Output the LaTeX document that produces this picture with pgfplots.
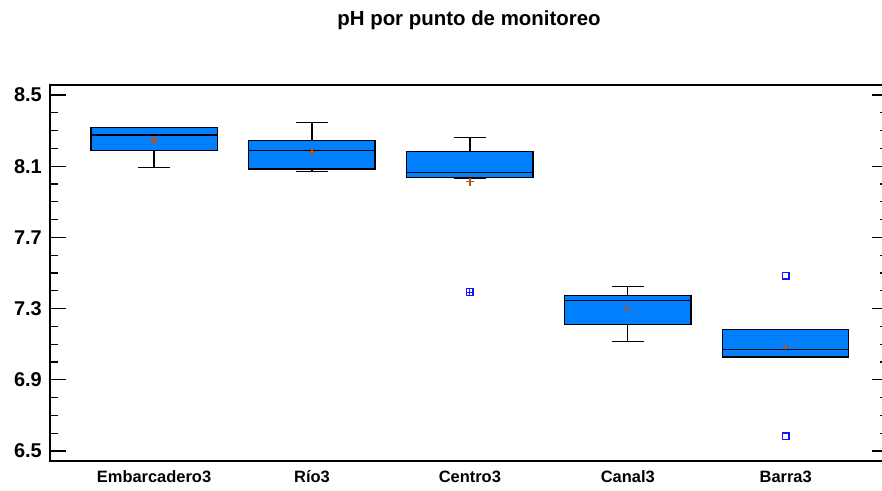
\documentclass[border=0pt]{standalone}
\usepackage{fontspec}
\setmainfont{Liberation Sans}
\usepackage{pgfplots}
\pgfplotsset{compat=1.18}
\definecolor{boxblue}{RGB}{0,128,255}
\definecolor{meanc}{RGB}{190,80,20}
\definecolor{outc}{RGB}{20,20,255}
% #1 position, #2 lower whisker, #3 Q1, #4 median, #5 Q3, #6 upper whisker
\newcommand\bx[6]{%
  \addplot[black, line width=1.3bp] coordinates {(#1,#3) (#1,#2)};
  \addplot[black, line width=1.3bp] coordinates {(#1,#5) (#1,#6)};
  \addplot[black, line width=1.3bp] coordinates {({#1-0.1},#2) ({#1+0.1},#2)};
  \addplot[black, line width=1.3bp] coordinates {({#1-0.1},#6) ({#1+0.1},#6)};
  \addplot[draw=black, fill=boxblue, line width=1.3bp] coordinates {({#1-0.4},#3) ({#1+0.4},#3) ({#1+0.4},#5) ({#1-0.4},#5)} -- cycle;
  \addplot[black, line width=1.3bp] coordinates {({#1-0.4},#4) ({#1+0.4},#4)};
}
\begin{document}
\begin{tikzpicture}
\begin{axis}[
  at={(0,0)}, anchor=south west,
  scale only axis, width=838bp, height=376bp,
  xmin=-0.659, xmax=4.648, ymin=6.444, ymax=8.556,
  xtick={0,1,2,3,4}, xticklabels={Embarcadero3,Río3,Centro3,Canal3,Barra3},
  xtick style={draw=none},
  ytick={6.5,6.9,7.3,7.7,8.1,8.5},
  minor y tick num=3,
  tick align=inside,
  ytick pos=both, yticklabel pos=left, xtick pos=bottom,
  major tick length=16bp, minor tick length=8bp,
  every tick/.style={black, line width=1.1bp},
  axis line style={line width=1.3bp},
  yticklabel style={font=\fontsize{20}{23}\selectfont\bfseries, inner sep=0pt, xshift=-8bp, /pgf/number format/.cd, fixed, fixed zerofill, precision=1, assume math mode=true},
  xticklabel style={font=\fontsize{16.5}{20}\selectfont\bfseries, anchor=base, yshift=-22bp},
  clip=false,
]
\bx{0}{8.092}{8.189}{8.275}{8.316}{8.316}
\bx{1}{8.071}{8.084}{8.189}{8.245}{8.345}
\bx{2}{8.034}{8.036}{8.064}{8.181}{8.260}
\bx{3}{7.114}{7.212}{7.344}{7.375}{7.423}
\bx{4}{7.028}{7.028}{7.069}{7.182}{7.182}
\addplot[only marks, mark=+, mark size=4bp, meanc, line width=1.3bp] coordinates {(0,8.247)(1,8.181)(2,8.013)(3,7.302)(4,7.082)};
\addplot[only marks, mark=square, mark size=3.2bp, outc, line width=1.3bp] coordinates {(2,7.393)(4,7.485)(4,6.584)};
\addplot[only marks, mark=+, mark size=3.2bp, outc, line width=1bp] coordinates {(2,7.393)};
\node[font=\fontsize{20.5}{24}\selectfont\bfseries] at (rel axis cs:0.5,1) [yshift=65bp] {pH por punto de monitoreo};
\end{axis}
\pgfresetboundingbox
\path (-50bp,-30bp) rectangle (832bp,461bp);
\end{tikzpicture}
\end{document}
